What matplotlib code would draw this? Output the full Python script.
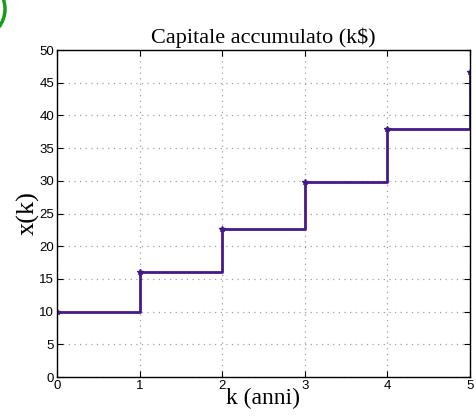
import numpy as np
import matplotlib
matplotlib.use('Agg')
import matplotlib.pyplot as plt
from matplotlib.patches import Ellipse

# anni e capitale accumulato x(k+1) = 1.1 x(k) + 5
k_anni = [0, 1, 2, 3, 4, 5]
capitale = [10.0, 16.0, 22.6, 29.86, 37.85, 46.63]

y_ticks = [0, 5, 10, 15, 20, 25, 30, 35, 40, 45, 50]
x_ticks = [0, 1, 2, 3, 4, 5]

LINE_COLOR = '#45198a'


def main():
    fig = plt.figure(figsize=(4.77, 4.17), dpi=100)
    ax = fig.add_axes([0.1195, 0.0959, 0.8658, 0.7841])

    ax.step(k_anni, capitale, where='post', color=LINE_COLOR, linewidth=2.0)
    ax.plot(k_anni, capitale, linestyle='none', marker='*', markersize=4,
            color=LINE_COLOR)

    ax.set_xlim(0, 5)
    ax.set_ylim(0, 50)
    ax.set_xticks(x_ticks)
    ax.set_yticks(y_ticks)
    ax.grid(True, linestyle=(0, (1, 3.5)), color='#a0a0a0', linewidth=0.9)

    ax.tick_params(direction='in', top=True, right=True, length=4,
                   labelsize=9.5, pad=2)
    for lbl in ax.get_xticklabels() + ax.get_yticklabels():
        lbl.set_family('Liberation Sans')
    for sp in ax.spines.values():
        sp.set_linewidth(1.0)

    ax.set_title('Capitale accumulato (k$)', family='Liberation Serif',
                 fontsize=16, pad=5)
    ax.set_xlabel('k (anni)', family='Liberation Serif', fontsize=17,
                  labelpad=-3)
    ax.set_ylabel('x(k)', family='Liberation Serif', fontsize=19,
                  labelpad=0)

    # green marker circle in the top-left corner
    circ = Ellipse((-17, 408), 44, 52, transform=None, fill=False,
                   edgecolor='#1a9a1a', linewidth=2.5, clip_on=False)
    fig.patches.append(circ)

    fig.savefig('out.png', dpi=100)
    plt.close(fig)


if __name__ == '__main__':
    main()
